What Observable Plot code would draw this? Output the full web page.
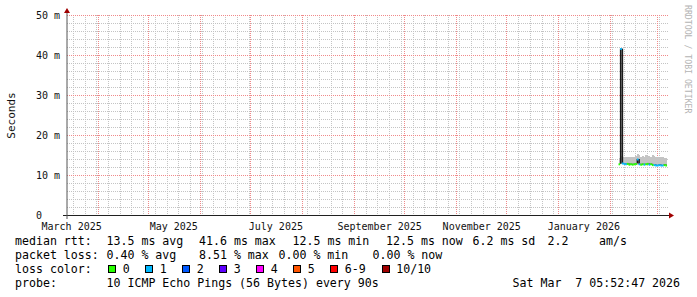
<!DOCTYPE html>
<html><head><meta charset="utf-8">
<script src="https://cdn.jsdelivr.net/npm/d3@7"></script>
<script src="https://cdn.jsdelivr.net/npm/@observablehq/plot@0.6"></script>
<style>
html,body{margin:0;padding:0;background:#fff;}
#wrap{position:relative;width:697px;height:297px;overflow:hidden;background:#fff;}
#chart svg{display:block;}
#legend{position:absolute;left:0;top:234px;width:697px;font-family:"DejaVu Sans Mono",monospace;font-size:11.6px;line-height:14px;color:#000;}
.row{position:relative;height:14px;}
.row span{position:absolute;top:0;white-space:pre;}
.row span.box{top:3px;width:6px;height:6px;border:1px solid #000;}
</style></head><body>
<div id="wrap"><div id="chart"></div><div id="legend"></div></div>
<script>
// ---- data ----
const xDomain = ["2025-03-13T12:30Z", "2026-03-08T04:00Z"];
const yMajorTicks = [0, 10, 20, 30, 40, 50];
const yMinorTicks = [2, 4, 6, 8, 12, 14, 16, 18, 22, 24, 26, 28, 32, 34, 36, 38, 42, 44, 46, 48];
const xLabelDates = ["2025-03-16", "2025-05-16", "2025-07-16", "2025-09-16", "2025-11-16", "2026-01-16"];

const dayDates = ["2026-02-06","2026-02-07","2026-02-08","2026-02-09","2026-02-10","2026-02-11","2026-02-12",
  "2026-02-13","2026-02-14","2026-02-15","2026-02-16","2026-02-17","2026-02-18","2026-02-19","2026-02-20",
  "2026-02-21","2026-02-22","2026-02-23","2026-02-24","2026-02-25","2026-02-26","2026-02-27","2026-02-28",
  "2026-03-01","2026-03-02","2026-03-03","2026-03-04","2026-03-05","2026-03-06"];
const medianMs = [12.8, 41.6, 13.0, 12.9, 12.8, 12.9, 12.7, 12.8, 12.7, 12.8, 12.9, 14.0, 12.8, 12.7, 12.8,
  12.7, 12.8, 12.9, 12.7, 12.8, 12.6, 12.6, 12.5, 12.5, 12.6, 12.5, 12.5, 12.6, 12.5];
const lossCount = [0, 1, 1, 1, 1, 0, 0, 0, 0, 0, 0, 1, 1, 0, 0, 1, 0, 0, 1, 0, 0, 1, 1, 1, 1, 1, 1, 0, 0];
const smokeHi = [14.3, 14.8, 14.6, 14.6, 14.5, 14.6, 14.5, 14.6, 14.5, 14.6, 14.7, 15.2, 15.0, 14.6, 14.8,
  14.6, 14.9, 14.7, 14.8, 14.6, 14.9, 14.7, 14.6, 14.5, 14.6, 14.4, 14.5, 14.3, 14.3];
const smokeLo = [12.6, 12.7, 12.7, 12.6, 12.6, 12.6, 12.5, 12.6, 12.5, 12.6, 12.6, 12.6, 12.6, 12.5, 12.6,
  12.5, 12.6, 12.6, 12.5, 12.6, 12.4, 12.4, 12.3, 12.3, 12.4, 12.3, 12.3, 12.4, 12.3];

const lossLabels = ["0", "1", "2", "3", "4", "5", "6-9", "10/10"];
const lossColors = ["#26ff00", "#00b8ff", "#0059ff", "#5e00ff", "#ff00ff", "#ff5500", "#ff0000", "#a00000"];

const rttValues = ["13.5", "41.6", "12.5", "12.5", "6.2"];
const rttNames = ["avg", "max", "min", "now", "sd"];
const ampsValue = "2.2";
const lossValues = ["0.40", "8.51", "0.00", "0.00"];
const lossNames = ["avg", "max", "min", "now"];
const probeText = "10 ICMP Echo Pings (56 Bytes) every 90s";
const stampText = "Sat Mar  7 05:52:47 2026";

// ---- build ----
function lossColorOf(n) { return n <= 5 ? lossColors[n] : n < 10 ? lossColors[6] : lossColors[7]; }
const days = dayDates.map((d, i) => {
  const date = new Date(d);
  return {date, next: d3.utcDay.offset(date, 1), median: medianMs[i], prev: i > 0 ? medianMs[i - 1] : medianMs[i],
    loss: lossCount[i], lo: smokeLo[i], hi: smokeHi[i]};
});
const xd = xDomain.map(d => new Date(d));
const monthTicks = d3.utcMonth.range(xd[0], xd[1]);
const weekTicks = d3.utcMonday.range(xd[0], xd[1]);
const minorGrid = "#c4c4c4";
const majorGrid = "#f08a8a";

// grid drawn through Plot's scales, snapped to whole pixels like RRDtool
function grid(index, scales, values, dim) {
  const g = d3.create("svg:g").attr("stroke-width", 1).attr("stroke-dasharray", "1,1").attr("shape-rendering", "crispEdges");
  const L = dim.marginLeft, R = dim.width - dim.marginRight, B = dim.height - dim.marginBottom, T = dim.marginTop;
  const hline = (v, c) => { const y = Math.round(scales.y(v)) + 0.5; g.append("line").attr("x1", L).attr("x2", R).attr("y1", y).attr("y2", y).attr("stroke", c); };
  const vline = (v, c) => { const x = Math.round(scales.x(v)) + 0.5; g.append("line").attr("x1", x).attr("x2", x).attr("y1", T).attr("y2", B).attr("stroke", c); };
  yMinorTicks.forEach(v => hline(v, minorGrid));
  weekTicks.forEach(v => vline(v, minorGrid));
  yMajorTicks.filter(v => v > 0).forEach(v => hline(v, majorGrid));
  monthTicks.forEach(v => vline(v, majorGrid));
  return g.node();
}

function chrome(index, scales, values, dim) {
  const g = d3.create("svg:g");
  const L = dim.marginLeft, R = dim.width - dim.marginRight, B = dim.height - dim.marginBottom, T = dim.marginTop;
  g.append("line").attr("x1", L - 4).attr("x2", R).attr("y1", B + 0.5).attr("y2", B + 0.5).attr("stroke", "#202020");
  g.append("line").attr("x1", L).attr("x2", L).attr("y1", B + 4).attr("y2", T - 2).attr("stroke", "#555").attr("stroke-width", 1);
  g.append("path").attr("d", `M${R},${B - 2.5}L${R + 5},${B + 0.5}L${R},${B + 3.5}Z`).attr("fill", "#a00000");
  g.append("path").attr("d", `M${L - 3},${T - 2}L${L},${T - 7}L${L + 3},${T - 2}Z`).attr("fill", "#a00000");
  g.append("text").attr("transform", `translate(${R + 16},5) rotate(90)`)
    .attr("font-size", 8.2).attr("fill", "#b4b4b4").attr("text-anchor", "start")
    .text("RRDTOOL / TOBI OETIKER");
  return g.node();
}

const chart = Plot.plot({
  width: 697, height: 234,
  marginLeft: 67, marginRight: 28, marginTop: 15, marginBottom: 19,
  style: {fontFamily: '"DejaVu Sans Mono", monospace', fontSize: "10px", background: "#fff", color: "#111"},
  x: {type: "utc", domain: xd, axis: null},
  y: {domain: [0, 50], axis: null},
  color: {type: "identity"},
  marks: [
    grid,
    Plot.rect(days, {x1: "date", x2: "next", y1: "lo", y2: "hi", fill: "#c4c4c4", shapeRendering: "crispEdges"}),
    Plot.ruleX(days.slice(1), {x: "date", y1: "prev", y2: "median", stroke: "#1a1a1a", strokeWidth: 1.6}),
    Plot.ruleY(days, {y: "median", x1: "date", x2: "next", stroke: d => lossColorOf(d.loss), strokeWidth: 2}),
    chrome,
    Plot.text(yMajorTicks, {y: d => d, text: d => d === 0 ? "0" : `${d} m`, frameAnchor: "left", dx: -31.5, textAnchor: "start", fill: "#111"}),
    Plot.text(xLabelDates.map(d => new Date(d)), {x: d => d, text: d => d3.utcFormat("%B %Y")(d), frameAnchor: "bottom", lineAnchor: "top", dy: 7, textAnchor: "middle", fill: "#111"}),
    Plot.text(["Seconds"], {frameAnchor: "left", rotate: -90, dx: -56, textAnchor: "middle", lineAnchor: "middle", fontSize: 11, fill: "#111"})
  ]
});
document.getElementById("chart").appendChild(chart);

// ---- legend ----
const legend = document.getElementById("legend");
function row(items) {
  const r = document.createElement("div");
  r.className = "row";
  for (const it of items) {
    const s = document.createElement("span");
    if (it.box) { s.className = "box"; s.style.background = it.box; }
    else s.textContent = it.t;
    s.style.left = it.x + "px";
    r.appendChild(s);
  }
  legend.appendChild(r);
}
const rttX = [106.5, 199, 292.5, 386, 472.5];
row([{t: "median rtt:", x: 15}]
  .concat(rttValues.map((v, i) => ({t: `${v} ms ${rttNames[i]}`, x: rttX[i]})))
  .concat([{t: ampsValue, x: 547.5}, {t: "am/s", x: 599}]));
const lossX = [106.5, 199, 278.5, 372.5];
row([{t: "packet loss:", x: 15}].concat(lossValues.map((v, i) => ({t: `${v} % ${lossNames[i]}`, x: lossX[i]}))));
const boxX = [108.3, 145.3, 182.3, 219.3, 256.3, 293.3, 330.3, 381.7];
const items3 = [{t: "loss color:", x: 15}];
lossLabels.forEach((l, i) => { items3.push({box: lossColors[i], x: boxX[i]}); items3.push({t: l, x: boxX[i] + 14.5}); });
row(items3);
row([{t: "probe:", x: 15}, {t: probeText, x: 106.5}, {t: stampText, x: 512.5}]);
</script>
</body></html>
